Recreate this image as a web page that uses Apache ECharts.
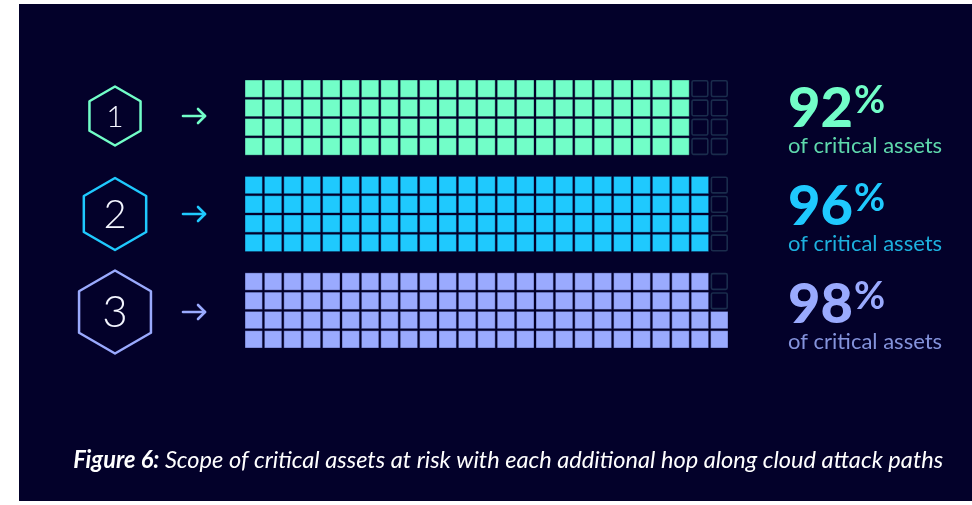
<!DOCTYPE html>
<html>
<head>
<meta charset="utf-8">
<script src="https://cdn.jsdelivr.net/npm/echarts@6/dist/echarts.min.js"></script>
<style>
html,body{margin:0;padding:0;background:#ffffff;}
#main{width:972px;height:505px;}
</style>
</head>
<body>
<div id="main"></div>
<script>
// ---- data ----
const hops = ['1', '2', '3'];
const percents = [92, 96, 98];
const percentLabels = ['92', '96', '98'];
const subLabel = 'of critical assets';
const captionBold = 'Figure 6:';
const captionText = ' Scope of critical assets at risk with each additional hop along cloud attack paths';
const COLS = 25;
const ROWS_PER = 4;

// ---- styles ----
const rowColors = ['#72fec8', '#1fc9fe', '#9aaafe'];
const subColors = ['#5fd9ad', '#1db0de', '#8493dc'];
const bg = '#03012a';
const emptyStroke = '#1a2c4c';

// build cell data: column by column, bottom-up fill
const cells = [];
percents.forEach(function (pct, b) {
  for (let c = 0; c < COLS; c++) {
    for (let r = 0; r < ROWS_PER; r++) {
      const idx = c * ROWS_PER + (ROWS_PER - 1 - r);
      cells.push([c, b * (ROWS_PER + 1) + r, b, idx < pct ? 1 : 0]);
    }
  }
});

const ctx = document.createElement('canvas').getContext('2d');
function measure(font, text) { ctx.font = font; return ctx.measureText(text).width; }

const chart = echarts.init(document.getElementById('main'), null, {renderer: 'canvas'});

const graphics = [];
graphics.push({type: 'rect', shape: {x: 19, y: 4, width: 953, height: 497}, style: {fill: bg}, z: -10});

const centersY = [116, 214, 312];
const hexR = [29.5, 36, 41.5];
const numSize = [30, 40, 44];
hops.forEach(function (h, i) {
  const cx = 115, cy = centersY[i], R = hexR[i];
  const pts = [];
  for (let k = 0; k < 6; k++) {
    const a = Math.PI / 180 * (-90 + 60 * k);
    pts.push([cx + R * Math.cos(a), cy + R * Math.sin(a)]);
  }
  graphics.push({type: 'polygon', shape: {points: pts}, style: {fill: 'none', stroke: rowColors[i], lineWidth: 2.5, lineJoin: 'round'}});
  graphics.push({type: 'text', x: cx, y: cy + 1, style: {text: h, fill: '#f4f6ff', font: '300 ' + numSize[i] + 'px Lato', textAlign: 'center', textVerticalAlign: 'middle'}});
  // arrow
  graphics.push({type: 'polyline', shape: {points: [[183, cy], [205, cy]]}, style: {stroke: rowColors[i], lineWidth: 2.6, lineCap: 'round'}});
  graphics.push({type: 'polyline', shape: {points: [[198, cy - 7], [205, cy], [198, cy + 7]]}, style: {fill: 'none', stroke: rowColors[i], lineWidth: 2.6, lineCap: 'round', lineJoin: 'round'}});
  // percentage text
  const bigFont = '900 56px Lato';
  const w = measure(bigFont, percentLabels[i]);
  graphics.push({type: 'text', x: 788, y: cy + 21, style: {text: percentLabels[i], fill: rowColors[i], font: bigFont, textAlign: 'left', textVerticalAlign: 'bottom'}});
  graphics.push({type: 'text', x: 788 + w + 1, y: cy - 34, style: {text: '%', fill: rowColors[i], font: 'bold 38px Lato', textAlign: 'left', textVerticalAlign: 'top'}});
  graphics.push({type: 'text', x: 788, y: cy + 30, style: {text: subLabel, fill: subColors[i], font: '22px Lato', textAlign: 'left', textVerticalAlign: 'middle'}});
});

// caption
const capBoldFont = 'italic bold 24px Lato';
const capFont = 'italic 24px Lato';
const capW = measure(capBoldFont, captionBold) + measure(capFont, captionText);
graphics.push({
  type: 'text', x: 72, y: 460, scaleX: 870 / capW, originX: 72, originY: 460,
  style: {
    text: '{b|' + captionBold + '}{n|' + captionText + '}',
    textVerticalAlign: 'middle', textAlign: 'left',
    rich: {
      b: {fontFamily: 'Lato', fontSize: 24, fontWeight: 'bold', fontStyle: 'italic', fill: '#ffffff'},
      n: {fontFamily: 'Lato', fontSize: 24, fontStyle: 'italic', fill: '#ffffff'}
    }
  }
});

chart.setOption({
  animation: false,
  backgroundColor: 'transparent',
  grid: {left: 244, top: 79, width: 485, height: 270},
  xAxis: {type: 'value', min: 0, max: COLS, show: false},
  yAxis: {type: 'value', min: 0, max: 3 * ROWS_PER + 2, inverse: true, show: false},
  graphic: graphics,
  series: [{
    type: 'custom',
    data: cells,
    encode: {x: 0, y: 1},
    renderItem: function (params, api) {
      const c = api.value(0), r = api.value(1), b = api.value(2), f = api.value(3);
      const p0 = api.coord([c, r]);
      const p1 = api.coord([c + 1, r + 1]);
      const x = Math.min(p0[0], p1[0]), y = Math.min(p0[1], p1[1]);
      const w = Math.abs(p1[0] - p0[0]), h = Math.abs(p1[1] - p0[1]);
      if (f) {
        return {type: 'rect', shape: {x: x + 1, y: y + 1, width: w - 2, height: h - 2},
          style: {fill: rowColors[b], stroke: 'rgba(3,1,42,0.35)', lineWidth: 1}};
      }
      return {type: 'rect', shape: {x: x + 1.8, y: y + 1.8, width: w - 3.6, height: h - 3.6, r: 1.5},
        style: {fill: 'none', stroke: emptyStroke, lineWidth: 1.6}};
    }
  }]
});
</script>
</body>
</html>
